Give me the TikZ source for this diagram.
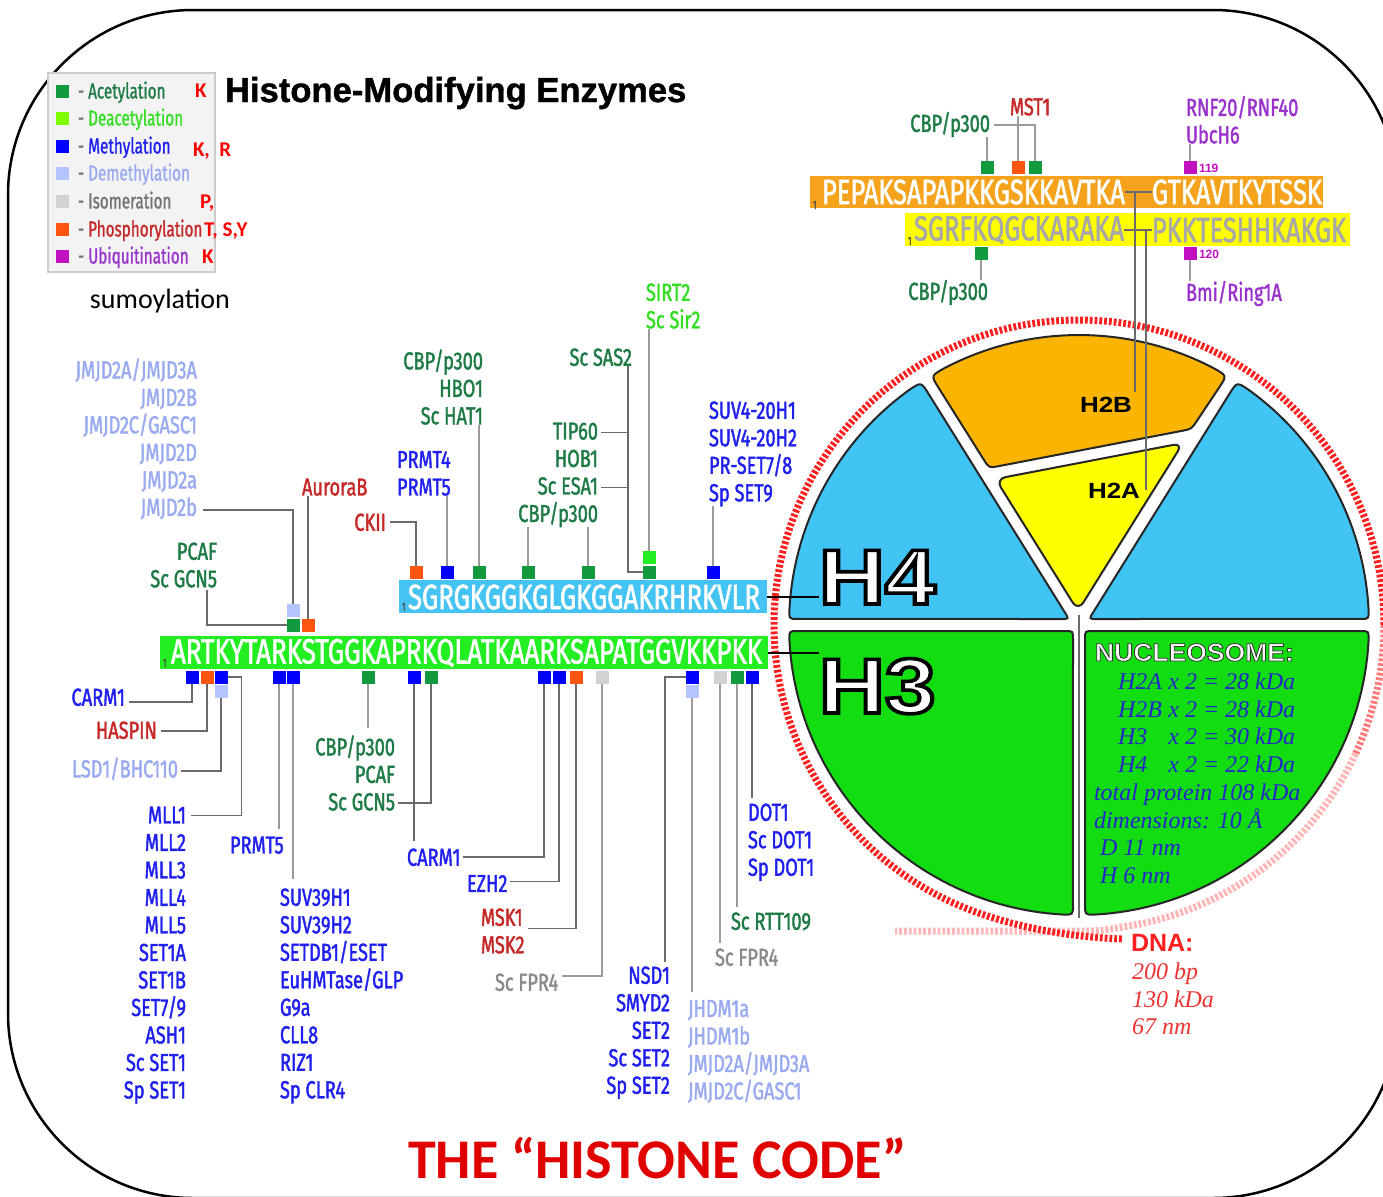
\documentclass[tikz,border=0pt]{standalone}
\usepackage{fontspec}
\usetikzlibrary{calc}
\setmainfont{Liberation Sans}
\newfontfamily\labfont[FakeStretch=0.74,FakeBold=1.6]{Fira Sans}
\newfontfamily\legfont[FakeStretch=0.7,FakeBold=1]{Fira Sans}
\newfontfamily\heavyfont[FakeBold=1.2]{Liberation Sans}
\newfontfamily\carlfont{Carlito}
\newfontfamily\serfont{Liberation Serif}
% text filled in the current colour and stroked in the given colour
\newcommand\strokedtext[3]{\special{pdf:literal q #2 RG #1 w 2 Tr}#3\special{pdf:literal Q}}

% modification colours (squares) and label colours
\definecolor{acsq}{HTML}{129A3E}\definecolor{acg}{HTML}{1E7B46}
\definecolor{desq}{HTML}{80FF00}\definecolor{deg}{HTML}{33DD22}
\definecolor{sirsq}{HTML}{22EE22}
\definecolor{mesq}{HTML}{0000FF}\definecolor{meb}{HTML}{2020EE}
\definecolor{dmsq}{HTML}{B4C4FF}\definecolor{dmb}{HTML}{9AAAF0}
\definecolor{issq}{HTML}{D2D2D2}\definecolor{isg}{HTML}{8A8A8A}
\definecolor{phsq}{HTML}{FF5511}\definecolor{phr}{HTML}{C62828}
\definecolor{ubsq}{HTML}{C010C0}\definecolor{ubp}{HTML}{9933CC}
\definecolor{legbg}{HTML}{F3F3F3}
% histone colours
\definecolor{h2bbar}{HTML}{F5A31D}\definecolor{h2bpc}{HTML}{FBB500}
\definecolor{h2apc}{HTML}{FFFF00}\definecolor{seqgray}{HTML}{A8A8A8}
\definecolor{h4bar}{HTML}{45C3F3}\definecolor{h4pc}{HTML}{40C4F4}
\definecolor{h3bar}{HTML}{22EE22}\definecolor{h3pc}{HTML}{11DD11}
\definecolor{dnared}{HTML}{FF1F1F}\definecolor{dnamid}{HTML}{FF7A7A}
\definecolor{dnapink}{HTML}{FFB5B5}\definecolor{dnatxt}{HTML}{EE3333}
\definecolor{nucblue}{HTML}{2626C8}\definecolor{codered}{HTML}{E00000}
\definecolor{lineg}{HTML}{9B9B9B}\definecolor{linedk}{HTML}{6A6A6A}

\begin{document}
\begin{tikzpicture}[x=0.5pt,y=-0.5pt,
  every node/.style={inner sep=0pt,outer sep=0pt},
  sq/.style={fill=#1,minimum size=6.5pt},
  conn/.style={draw=lineg,line width=1pt},
  dconn/.style={draw=linedk,line width=0.9pt},
  lab/.style={font=\labfont\fontsize{12.3}{13.75}\selectfont},
  labR/.style={lab,align=right,anchor=north east,text=#1},
  labL/.style={lab,align=left,anchor=north west,text=#1},
  seq/.style={font=\labfont\fontsize{17.5}{17.5}\selectfont,anchor=west,text=#1},
  bar/.style={fill=#1,anchor=north west},
  leg/.style={font=\legfont\fontsize{10.9}{12}\selectfont,anchor=base west,text=#1},
  aa/.style={font=\carlfont\bfseries\fontsize{10.5}{12}\selectfont,text=red,anchor=base west},
  piece/.style={draw=black!85,line width=1pt},
  dna/.style={line width=3.5pt,dash pattern=on 1.4pt off 1pt},
  nuc/.style={font=\serfont\itshape\fontsize{12}{12}\selectfont,text=nucblue,anchor=base west},
  sub/.style={font=\legfont\fontsize{6}{6}\selectfont,text=black!70,anchor=base west},
  big/.style={anchor=base west,font=\bfseries\fontsize{39}{39}\selectfont},
]
\useasboundingbox (0,0) rectangle (1383,1196);

% frame
\draw[line width=1.25pt,rounded corners=92.5pt] (8,10) rectangle (1398,1198);

% legend
\node[draw=black!20,fill=legbg,line width=0.8pt,minimum width=83.5pt,minimum height=99.5pt,anchor=north west] (legend) at (48,73) {};
\node[sq=acsq] (lgac) at (62,91) {};
\node[leg=acg] (lgtac) at (78,98.5) {\textcolor{black!55}{-} Acetylation};
\node[sq=desq] (lgde) at (62,118) {};
\node[leg=deg] (lgtde) at (78,125.5) {\textcolor{black!55}{-} Deacetylation};
\node[sq=mesq] (lgme) at (62,146) {};
\node[leg=meb] (lgtme) at (78,153.5) {\textcolor{black!55}{-} Methylation};
\node[sq=dmsq] (lgdm) at (62,173) {};
\node[leg=dmb] (lgtdm) at (78,180.5) {\textcolor{black!55}{-} Demethylation};
\node[sq=issq] (lgis) at (62,201) {};
\node[leg=black!55] (lgtis) at (78,208.5) {\textcolor{black!55}{-} Isomeration};
\node[sq=phsq] (lgph) at (62,229) {};
\node[leg=phr] (lgtph) at (78,236.5) {\textcolor{black!55}{-} Phosphorylation};
\node[sq=ubsq] (lgub) at (62,256) {};
\node[leg=ubp] (lgtub) at (78,263.5) {\textcolor{black!55}{-} Ubiquitination};
\node[aa] (aaK1) at (195,97) {K};
\node[aa] (aaKR) at (193,156) {K,\ \ R};
\node[aa] (aaP) at (200,208) {P,};
\node[aa] (aaTSY) at (204,236) {T, S,Y};
\node[aa] (aaK2) at (202,263) {K};
\node[font=\carlfont\fontsize{14}{14}\selectfont,anchor=base west] (sumo) at (90,308) {sumoylation};

% titles
\node[font=\heavyfont\bfseries\fontsize{17.3}{17.3}\selectfont,anchor=base west] (title) at (225,102) {Histone-Modifying Enzymes};
\node[font=\carlfont\bfseries\fontsize{28}{28}\selectfont,text=codered,anchor=base west] (code) at (408,1178) {THE “HISTONE CODE”};

% ---------- nucleosome ----------
\coordinate (C) at (1079,625);
\draw[dna,draw=dnapink] ($(C)+(25:305)$) arc[start angle=25,end angle=80,radius=305]
  .. controls (1100,931) .. (1079,931) -- (895,931);
\draw[dna,draw=dnamid] ($(C)+(0:305)$) arc[start angle=0,end angle=25,radius=305];
\draw[dna,draw=dnared] ($(C)+(0:305)$) arc[start angle=0,end angle=-250,radius=305]
  .. controls (1020,928) and (1070,937) .. (1122,939);

% corner points of the octamer pieces
\coordinate (b1) at (1069,619);
\coordinate (b2) at ($(C)+(-178.8:290)$);
\coordinate (b3) at ($(C)+(-123:290)$);
\coordinate (c1) at (1089,619);
\coordinate (c2) at ($(C)+(-1.2:290)$);
\coordinate (c3) at ($(C)+(-57:290)$);
\coordinate (o1) at (989,468);
\coordinate (o2) at ($(C)+(-120.7:290)$);
\coordinate (o3) at ($(C)+(-59.3:290)$);
\coordinate (o4) at (1191.5,429);
\coordinate (g1) at (1073,631);
\coordinate (g2) at ($(C)+(178.8:290)$);
\coordinate (g3) at ($(C)+(91.2:290)$);
\coordinate (k1) at (1085,631);
\coordinate (k2) at ($(C)+(1.2:290)$);
\coordinate (k3) at ($(C)+(88.8:290)$);

\draw[piece,fill=h4pc] ($(b1)!4pt!(b3)$) .. controls (b1) .. ($(b1)!4pt!(b2)$) -- ($(b2)!4pt!(b1)$)
  .. controls (b2) .. ($(C)+(-176.8:290)$) arc[start angle=-176.8,end angle=-126,radius=290]
  .. controls (b3) .. ($(b3)!7pt!(b1)$) -- cycle;
\draw[piece,fill=h4pc] ($(c1)!4pt!(c3)$) .. controls (c1) .. ($(c1)!4pt!(c2)$) -- ($(c2)!4pt!(c1)$)
  .. controls (c2) .. ($(C)+(-3.2:290)$) arc[start angle=-3.2,end angle=-54,radius=290]
  .. controls (c3) .. ($(c3)!7pt!(c1)$) -- cycle;
\draw[piece,fill=h2bpc] ($(o1)!0.5!(o4)$) -- ($(o1)!5pt!(o4)$) .. controls (o1) .. ($(o1)!5pt!(o2)$)
  -- ($(o2)!7pt!(o1)$) .. controls (o2) .. ($(C)+(-117.7:290)$) arc[start angle=-117.7,end angle=-62.3,radius=290]
  .. controls (o3) .. ($(o3)!7pt!(o4)$) -- ($(o4)!5pt!(o3)$) .. controls (o4) .. ($(o4)!5pt!(o1)$) -- cycle;
\draw[piece,fill=h2apc,rounded corners=5pt] (995.6,479) -- (1183,443) -- (1078,611) -- cycle;
\draw[piece,fill=h3pc] ($(g3)!0.5!(g1)$) -- ($(g1)!4pt!(g3)$) .. controls (g1) .. ($(g1)!4pt!(g2)$)
  -- ($(g2)!4pt!(g1)$) .. controls (g2) .. ($(C)+(176.8:290)$) arc[start angle=176.8,end angle=93.2,radius=290]
  .. controls (g3) .. ($(g3)!5pt!(g1)$) -- cycle;
\draw[piece,fill=h3pc] ($(k3)!0.5!(k1)$) -- ($(k1)!4pt!(k3)$) .. controls (k1) .. ($(k1)!4pt!(k2)$)
  -- ($(k2)!4pt!(k1)$) .. controls (k2) .. ($(C)+(3.2:290)$) arc[start angle=3.2,end angle=86.8,radius=290]
  .. controls (k3) .. ($(k3)!5pt!(k1)$) -- cycle;
\draw[draw=linedk,line width=1pt] (1079,615) -- (1079,918);

\node[anchor=base west,font=\bfseries\fontsize{11}{11}\selectfont] (h2blab) at (1080,412) {\scalebox{1.18}[1]{H2B}};
\node[anchor=base west,font=\bfseries\fontsize{11}{11}\selectfont] (h2alab) at (1088,498) {\scalebox{1.18}[1]{H2A}};

\node[anchor=base west,font=\bfseries\fontsize{12.5}{12.5}\selectfont] (nuctitle) at (1095,661) {\color{white}\scalebox{1.06}[1]{\strokedtext{0.4}{0.2 0.2 0.2}{NUCLEOSOME:}}};
\node[big] (h4lab) at (819,604) {\color{white}\scalebox{1.17}[1]{\strokedtext{1.8}{0 0 0}{H4}}};
\node[big] (h3lab) at (819,713) {\color{white}\scalebox{1.17}[1]{\strokedtext{1.8}{0 0 0}{H3}}};

\node[nuc] (n1) at (1118,689) {\makebox[2.1em][l]{H2A}x 2 = 28 kDa};
\node[nuc] (n2) at (1118,717) {\makebox[2.1em][l]{H2B}x 2 = 28 kDa};
\node[nuc] (n3) at (1118,744) {\makebox[2.1em][l]{H3}x 2 = 30 kDa};
\node[nuc] (n4) at (1118,772) {\makebox[2.1em][l]{H4}x 2 = 22 kDa};
\node[nuc] (n5) at (1094,800) {total protein 108 kDa};
\node[nuc] (n6) at (1094,828) {dimensions: 10 Å};
\node[nuc] (n7) at (1100,855) {D 11 nm};
\node[nuc] (n8) at (1100,883) {H 6 nm};

\node[font=\bfseries\fontsize{12.5}{12.5}\selectfont,text=dnared,anchor=base west] (dnalab) at (1131,951) {DNA:};
\node[font=\serfont\itshape\fontsize{12}{13.8}\selectfont,text=dnatxt,align=left,anchor=north west] (dnainfo) at (1132,963) {200 bp\\130 kDa\\67 nm};

% ---------- H2B / H2A tails ----------
\node[bar=h2bbar,minimum width=256.5pt,minimum height=16pt] (h2bbar) at (810,176) {};
\node[bar=h2apc,minimum width=222.5pt,minimum height=16.5pt] (h2abar) at (905,213) {};
\node[seq=white] (h2bL) at (822,192) {\resizebox{151.5pt}{\height}{PEPAKSAPAPKKGSKKAVTKA}};
\node[seq=white] (h2bR) at (1152,192) {\resizebox{85pt}{\height}{GTKAVTKYTSSK}};
\node[seq=seqgray] (h2aL) at (914,230) {\resizebox{105pt}{\height}{SGRFKQGCKARAKA}};
\node[seq=seqgray] (h2aR) at (1152,230) {\resizebox{97pt}{\height}{PKKTESHHKAKGK}};
\node[sub] (one2b) at (813,209) {1};
\node[sub] (one2a) at (908,245) {1};

\node[sq=acsq] (s2bk5) at (987,167) {};
\node[sq=phsq] (s2bs14) at (1018,167) {};
\node[sq=acsq] (s2bk15) at (1035,167) {};
\node[sq=ubsq] (s2bk119) at (1190,167) {};
\node[font=\bfseries\fontsize{6}{6}\selectfont,text=ubsq,anchor=west] (n119) at (1199,168) {119};
\node[sq=acsq] (s2ak5) at (981,253) {};
\node[sq=ubsq] (s2ak119) at (1190,253) {};
\node[font=\bfseries\fontsize{6}{6}\selectfont,text=ubsq,anchor=west] (n120) at (1199,254) {120};

\node[labR=acg] (cbpA) at (990,112) {CBP/p300};
\node[labL=phr] (mst) at (1010,98) {MST1};
\node[labL=ubp] (rnf) at (1186,96) {RNF20/RNF40\\UbcH6};
\node[labR=acg] (cbpB) at (988,280) {CBP/p300};
\node[labL=ubp] (bmi) at (1186,281) {Bmi/Ring1A};

\draw[conn] (s2bk5.north) -- (s2bk5.north |- cbpA.south);
\draw[conn] ([xshift=2pt]cbpA.east) -| (s2bk15.north);
\draw[conn] (s2bs14.north) -- (s2bs14.north |- mst.south);
\draw[conn] (s2bk119.north) -- (s2bk119.north |- rnf.south);
\draw[conn] (s2ak5.south) -- (s2ak5.south |- cbpB.north);
\draw[conn] (s2ak119.south) -- (s2ak119.south |- bmi.north);

\draw[dconn] (h2bL.east) -- (h2bR.west);
\draw[dconn] (h2aL.east) -- (h2aR.west);
\coordinate (j2b) at (1135,193);
\coordinate (j2a) at (1146,231);
\draw[dconn] (j2b) -- ($(j2b |- h2blab.north)+(0,-5)$);
\draw[dconn] (j2a) -- (j2a |- h2alab.center);

% ---------- H4 tail ----------
\node[bar=h4bar,minimum width=184pt,minimum height=16.5pt] (h4bar) at (399,580) {};
\node[seq=white] (h4seq) at (408,597) {\resizebox{176pt}{\height}{SGRGKGGKGLGKGGAKRHRKVLR}};
\node[sub] (one4) at (402,611) {1};
\draw[line width=1pt] (h4bar.east) -- (h4bar.east -| h4lab.west);

\node[sq=phsq] (s4s1) at (416,572) {};
\node[sq=mesq] (s4r3) at (447,572) {};
\node[sq=acsq] (s4k5) at (479,572) {};
\node[sq=acsq] (s4k8) at (528,572) {};
\node[sq=acsq] (s4k12) at (588,572) {};
\node[sq=acsq] (s4k16) at (649,572) {};
\node[sq=sirsq] (s4k16d) at (649,557) {};
\node[sq=mesq] (s4k20) at (713,572) {};

\node[labR=phr] (ckii) at (386,513.5) {CKII};
\node[labL=meb] (prmt45) at (397,451) {PRMT4\\PRMT5};
\node[labR=acg] (hat) at (483,349.5) {CBP/p300\\HBO1\\Sc HAT1};
\node[labR=acg] (sas2) at (632,348.5) {Sc SAS2};
\node[labR=acg] (tip) at (598,422.5) {TIP60\\HOB1\\Sc ESA1\\CBP/p300};
\node[labL=deg] (sirt) at (646,283.5) {SIRT2\\Sc Sir2};
\node[labL=meb] (suv4) at (709,401.5) {SUV4-20H1\\SUV4-20H2\\PR-SET7/8\\Sp SET9};

\draw[dconn] ([xshift=2pt]ckii.east) -| (s4s1.north);
\draw[conn] (s4r3.north) -- (s4r3.north |- prmt45.south);
\draw[conn] (s4k5.north) -- (s4k5.north |- hat.south);
\draw[conn] (s4k8.north) -- (s4k8.north |- tip.south);
\draw[conn] (s4k12.north) -- (s4k12.north |- tip.south);
\coordinate (sasx) at ($(sas2.south east)+(-4,0)$);
\draw[dconn] (sasx) |- (s4k16.west);
\coordinate (tipA) at ($(tip.north east)+(3,10)$);
\coordinate (tipC) at ($(tip.north east)+(3,65)$);
\draw[dconn] (tipA) -- (tipA -| sasx);
\draw[dconn] (tipC) -- (tipC -| sasx);
\draw[conn] (s4k16d.north) -- (s4k16d.north |- sirt.south);
\draw[conn] (s4k20.north) -- (s4k20.north |- suv4.south);

% ---------- H3 tail ----------
\node[bar=h3bar,minimum width=304pt,minimum height=16.5pt] (h3bar) at (160,636) {};
\node[seq=white] (h3seq) at (171,653) {\resizebox{295.5pt}{\height}{ARTKYTARKSTGGKAPRKQLATKAARKSAPATGGVKKPKK}};
\node[sub] (one3) at (163,667) {1};
\draw[line width=1pt] (h3bar.east) -- (h3bar.east -| h3lab.west);

% above the bar
\node[sq=dmsq] (s3k9dm) at (293,610) {};
\node[sq=acsq] (s3k9ac) at (293,625) {};
\node[sq=phsq] (s3s10) at (308,625) {};
% below the bar
\node[sq=mesq] (s3r2) at (192,677) {};
\node[sq=phsq] (s3t3) at (207,677) {};
\node[sq=mesq] (s3k4) at (221,677) {};
\node[sq=dmsq] (s3k4dm) at (221,691) {};
\node[sq=mesq] (s3r8) at (279,677) {};
\node[sq=mesq] (s3k9) at (293,677) {};
\node[sq=acsq] (s3k14) at (368,677) {};
\node[sq=mesq] (s3r17) at (414,677) {};
\node[sq=acsq] (s3k18) at (431,677) {};
\node[sq=mesq] (s3r26) at (544,677) {};
\node[sq=mesq] (s3k27) at (559,677) {};
\node[sq=phsq] (s3s28) at (576,677) {};
\node[sq=issq] (s3p30) at (602,677) {};
\node[sq=mesq] (s3k36) at (692,677) {};
\node[sq=dmsq] (s3k36dm) at (692,691) {};
\node[sq=issq] (s3p38) at (720,677) {};
\node[sq=acsq] (s3k56) at (737,677) {};
\node[sq=mesq] (s3k79) at (752,677) {};

\node[labR=dmb] (jmjd) at (197,358.5) {JMJD2A/JMJD3A\\JMJD2B\\JMJD2C/GASC1\\JMJD2D\\JMJD2a\\JMJD2b};
\node[labR=acg] (pcaf) at (217,542.5) {PCAF\\Sc GCN5};
\node[labL=phr] (aurora) at (302,478.5) {AuroraB};

\node[labR=meb] (carm1) at (125,688.5) {CARM1};
\node[labR=phr] (haspin) at (157,721.5) {HASPIN};
\node[labR=dmb] (lsd1) at (178,757.5) {LSD1/BHC110};
\node[labR=meb] (mll) at (186,806.5) {MLL1\\MLL2\\MLL3\\MLL4\\MLL5\\SET1A\\SET1B\\SET7/9\\ASH1\\Sc SET1\\Sp SET1};
\node[labL=meb] (prmt5) at (230,836.5) {PRMT5};
\node[labL=meb] (suv39) at (280,888.5) {SUV39H1\\SUV39H2\\SETDB1/ESET\\EuHMTase/GLP\\G9a\\CLL8\\RIZ1\\Sp CLR4};
\node[labR=acg] (cbpL) at (395,735.5) {CBP/p300\\PCAF\\Sc GCN5};
\node[labL=meb] (carm2) at (407,848.5) {CARM1};
\node[labL=meb] (ezh2) at (467,875) {EZH2};
\node[labL=phr] (msk) at (481,908.5) {MSK1\\MSK2};
\node[labL=isg] (fpr1) at (495,973.5) {Sc FPR4};
\node[labR=meb] (nsd) at (670,966.5) {NSD1\\SMYD2\\SET2\\Sc SET2\\Sp SET2};
\node[labL=dmb] (jhdm) at (688,1000) {JHDM1a\\JHDM1b\\JMJD2A/JMJD3A\\JMJD2C/GASC1};
\node[labL=isg] (fpr2) at (715,948.5) {Sc FPR4};
\node[labL=acg] (rtt) at (731,912.5) {Sc RTT109};
\node[labL=meb] (dot) at (748,803.5) {DOT1\\Sc DOT1\\Sp DOT1};

% connectors above the bar
\draw[dconn] ($(jmjd.south east)+(6,-9)$) -| (s3k9dm.north);
\draw[dconn] (s3s10.north) -- (s3s10.north |- aurora.south);
\draw[dconn] ($(pcaf.south east)+(-10,2)$) |- (s3k9ac.west);
% connectors below the bar
\draw[dconn] ($(carm1.east)+(4,5)$) -| (s3r2.south);
\draw[dconn] ($(haspin.east)+(4,1)$) -| (s3t3.south);
\draw[dconn] ($(lsd1.east)+(3,2)$) -| (s3k4dm.south);
\draw[dconn] ($(mll.north east)+(5,9)$) -| ($(s3k4.east)+(14,0)$) -- (s3k4.east);
\draw[conn] (s3r8.south) -- ($(s3r8.south |- prmt5.north)+(0,-8)$);
\draw[conn] (s3k9.south) -- ($(s3k9.south |- suv39.north)+(0,-10)$);
\draw[conn] (s3k14.south) -- ($(s3k14.south |- cbpL.north)+(0,-8)$);
\draw[dconn] ($(cbpL.south east)+(3,-8)$) -| (s3k18.south);
\draw[dconn] (s3r17.south) -- ($(s3r17.south |- carm2.north)+(0,-8)$);
\draw[dconn] ($(carm2.east)+(3,0)$) -| (s3r26.south);
\draw[dconn] ($(ezh2.east)+(3,-2)$) -| (s3k27.south);
\draw[dconn] ($(msk.north east)+(3,20)$) -| (s3s28.south);
\draw[conn] ($(fpr1.east)+(4,-6)$) -| (s3p30.south);
\draw[dconn] ($(nsd.north east)+(-5,-5)$) |- (s3k36.west);
\draw[conn] (s3k36dm.south) -- ($(s3k36dm.south |- jhdm.north)+(0,-8)$);
\draw[conn] (s3p38.south) -- ($(s3p38.south |- fpr2.north)+(0,-6)$);
\draw[conn] (s3k56.south) -- ($(s3k56.south |- rtt.north)+(0,-6)$);
\draw[dconn] (s3k79.south) -- ($(s3k79.south |- dot.north)+(0,-6)$);
\end{tikzpicture}
\end{document}
